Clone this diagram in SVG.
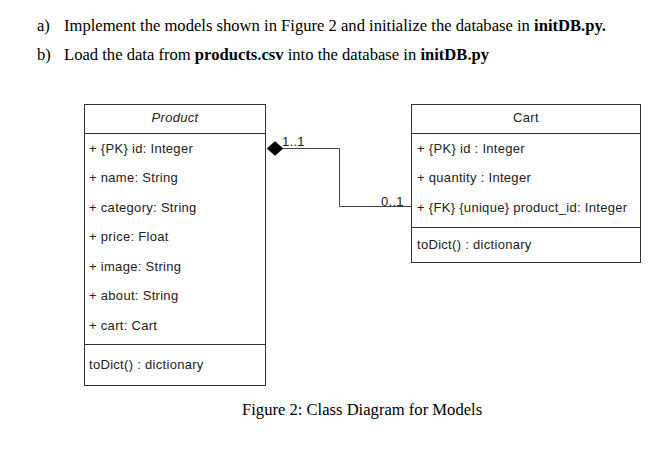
<svg xmlns="http://www.w3.org/2000/svg" width="664" height="449" viewBox="0 0 664 449">
<style>
.t{font-family:"Liberation Serif",serif;font-size:16.6px;fill:#000}
.b{font-weight:bold}
.u{font-family:"Liberation Sans",Arial,sans-serif;font-size:13px;letter-spacing:0.3px;fill:#222}
.box{fill:#fff;stroke:#333;stroke-width:1}
.ln{stroke:#444;stroke-width:1;fill:none}
</style>
<rect width="664" height="449" fill="#fff"/>
<text class="t" x="37" y="31">a)</text>
<text class="t" x="64" y="31">Implement the models shown in Figure 2 and initialize the database in <tspan class="b">initDB.py.</tspan></text>
<text class="t" x="37" y="60">b)</text>
<text class="t" x="64" y="60">Load the data from <tspan class="b">products.csv</tspan> into the database in <tspan class="b">initDB.py</tspan></text>

<g id="product">
<rect class="box" x="84.5" y="104.5" width="181" height="281"/>
<line class="box" x1="84.5" y1="133.5" x2="265.5" y2="133.5"/>
<line class="box" x1="84.5" y1="344.5" x2="265.5" y2="344.5"/>
<text class="u" x="175" y="122" text-anchor="middle" font-style="italic">Product</text>
<text class="u" x="89" y="153">+ {PK} id: Integer</text>
<text class="u" x="89" y="182">+ name: String</text>
<text class="u" x="89" y="212">+ category: String</text>
<text class="u" x="89" y="241">+ price: Float</text>
<text class="u" x="89" y="271">+ image: String</text>
<text class="u" x="89" y="300">+ about: String</text>
<text class="u" x="89" y="330">+ cart: Cart</text>
<text class="u" x="89" y="369">toDict() : dictionary</text>
</g>

<g id="cart">
<rect class="box" x="411.5" y="104.5" width="229" height="158"/>
<line class="box" x1="411.5" y1="133.5" x2="640.5" y2="133.5"/>
<line class="box" x1="411.5" y1="227.5" x2="640.5" y2="227.5"/>
<text class="u" x="526" y="122" text-anchor="middle">Cart</text>
<text class="u" x="417" y="153">+ {PK} id : Integer</text>
<text class="u" x="417" y="182">+ quantity : Integer</text>
<text class="u" x="417" y="212">+ {FK} {unique} product_id: Integer</text>
<text class="u" x="417" y="249">toDict() : dictionary</text>
</g>

<g id="connectors">
<polyline class="ln" points="283,148.5 339.5,148.5 339.5,206.5 411.5,206.5"/>
<polygon points="267,148.5 275,141.5 283,148.5 275,155.5" fill="#000" stroke="#000" stroke-width="0.5"/>
<text class="u" x="282" y="146">1..1</text>
<text class="u" x="381" y="206">0..1</text>
</g>

<text class="t" x="242" y="415" font-size="15.6">Figure 2: Class Diagram for Models</text>
</svg>
